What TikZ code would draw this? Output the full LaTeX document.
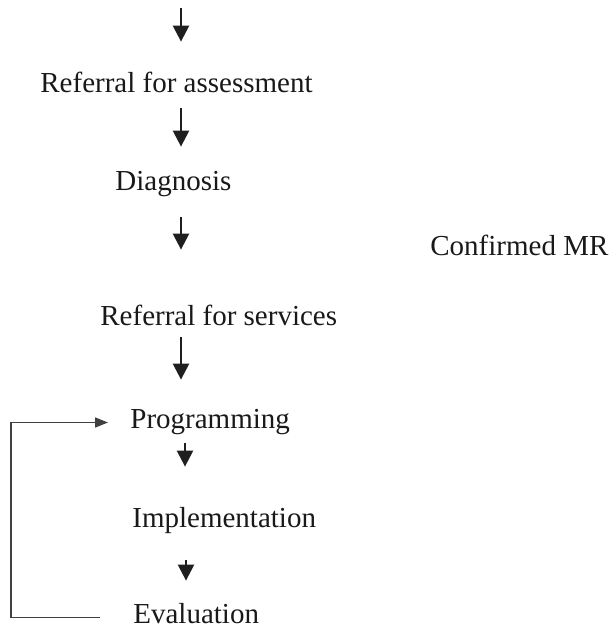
\documentclass[tikz,border=0pt]{standalone}
\usepackage{fontspec}
\setmainfont{Liberation Serif}
\usepackage{tikz}
\usetikzlibrary{positioning,arrows.meta,calc}

\begin{document}
\begin{tikzpicture}[
  x=0.5pt, y=-0.5pt,
  every node/.style={inner sep=0pt, anchor=base west, text=black!90,
    font=\fontsize{14.5}{17}\selectfont, text height=10pt, text depth=1.5pt},
  flow/.style={draw=black!88, line width=1.2pt, -{Triangle[length=8pt, width=8pt]}},
  feedback/.style={draw=black!75, line width=0.8pt, -{Triangle[length=6.5pt, width=5pt]}}
]
\useasboundingbox (0,0) rectangle (611,627);

% stages
\node (assess) at (40,92) {Referral for assessment};
\node (diag) at (115,190) {Diagnosis};
\node (conf) at (430,255) {Confirmed MR};
\node (serv) at (100,325) {Referral for services};
\node (prog) at (130,428) {Programming};
\node (impl) at (132,527) {Implementation};
\node (eval) at (133,623) {Evaluation};

\coordinate (start) at (181,8);

% arrows down the middle
\draw[flow, shorten >=15pt] (start) -- (assess.north -| start);
\draw[flow, shorten <=6.5pt, shorten >=11.5pt] (assess.south -| start) -- (diag.north -| start);
\draw[flow, shorten <=12pt, shorten >=27.5pt] (diag.south -| start) -- (serv.north -| start);
\draw[flow, shorten <=4.5pt, shorten >=14pt] (serv.south -| start) -- (prog.north -| start);
\draw[flow, shorten <=6pt, shorten >=20pt] ([xshift=2pt]prog.south -| start) -- ([xshift=2pt]impl.north -| start);
\draw[flow, shorten <=15pt, shorten >=11pt] ([xshift=2.5pt]impl.south -| start) -- ([xshift=2.5pt]eval.north -| start);

% evaluation feeds back into programming
\draw[feedback, shorten <=16.5pt, shorten >=11pt] ([yshift=-1.5pt]eval.west) -- ++(-61pt,0) |- ([yshift=-1.5pt]prog.west);
\end{tikzpicture}
\end{document}
